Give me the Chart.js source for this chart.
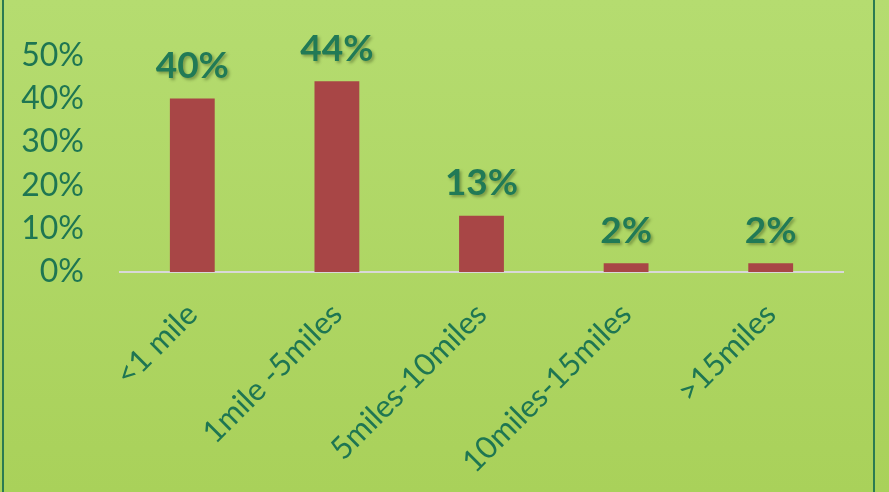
<!DOCTYPE html>
<html>
<head>
<meta charset="utf-8">
<script src="https://cdn.jsdelivr.net/npm/chart.js@4"></script>
<style>
  html, body { margin: 0; padding: 0; }
  body {
    width: 889px; height: 492px; overflow: hidden;
    background: linear-gradient(to bottom, #b5dc70, #a9d15a);
  }
  #frame {
    position: absolute; left: 2px; top: 0; width: 869px; height: 492px;
    border-left: 2px solid #2a7b52; border-right: 2px solid #2a7b52;
  }
  #wrap { position: absolute; left: 0; top: 0; width: 889px; height: 492px; }
</style>
</head>
<body>
<div id="frame"></div>
<div id="wrap"><canvas id="chart" width="889" height="492"></canvas></div>
<script>
const categories = ['<1 mile', '1mile -5miles', '5miles-10miles', '10miles-15miles', '>15miles'];
const shares = [0.40, 0.44, 0.13, 0.02, 0.02];
const shareLabels = ['40%', '44%', '13%', '2%', '2%'];

const textGreen = '#1e7652';

// draw the value labels above each bar
const valueLabels = {
  id: 'valueLabels',
  afterDatasetsDraw(chart) {
    const ctx = chart.ctx;
    const meta = chart.getDatasetMeta(0);
    ctx.save();
    ctx.font = 'bold 37px Lato';
    ctx.textAlign = 'center';
    ctx.textBaseline = 'bottom';
    ctx.fillStyle = '#217a56';
    ctx.shadowColor = 'rgba(40,60,20,0.4)';
    ctx.shadowOffsetX = 2;
    ctx.shadowOffsetY = 2;
    ctx.shadowBlur = 3;
    meta.data.forEach((bar, i) => {
      ctx.fillText(shareLabels[i], bar.x, bar.y - 14);
    });
    ctx.restore();
  }
};

new Chart(document.getElementById('chart'), {
  type: 'bar',
  data: {
    labels: categories,
    datasets: [{
      data: shares,
      backgroundColor: '#a84646',
      barPercentage: 0.62,
      categoryPercentage: 0.5
    }]
  },
  options: {
    responsive: false,
    animation: false,
    devicePixelRatio: 1,
    layout: { padding: { top: 55, right: 46, left: 0, bottom: 0 } },
    plugins: { legend: { display: false }, tooltip: { enabled: false } },
    scales: {
      x: {
        grid: { display: false, drawTicks: false },
        border: { color: '#d8d8d8', width: 2 },
        ticks: {
          color: textGreen,
          font: { family: 'Lato', size: 31 },
          minRotation: 45, maxRotation: 45,
          padding: 24
        },
        afterFit(scale) { scale.height = 220; }
      },
      y: {
        min: 0, max: 0.5,
        grid: { display: false, drawTicks: false },
        border: { display: false },
        ticks: {
          stepSize: 0.1,
          color: textGreen,
          font: { family: 'Lato', size: 32 },
          padding: 36,
          callback: v => Math.round(v * 100) + '%'
        },
        afterFit(scale) { scale.width = 120; }
      }
    }
  },
  plugins: [valueLabels]
});
</script>
</body>
</html>
